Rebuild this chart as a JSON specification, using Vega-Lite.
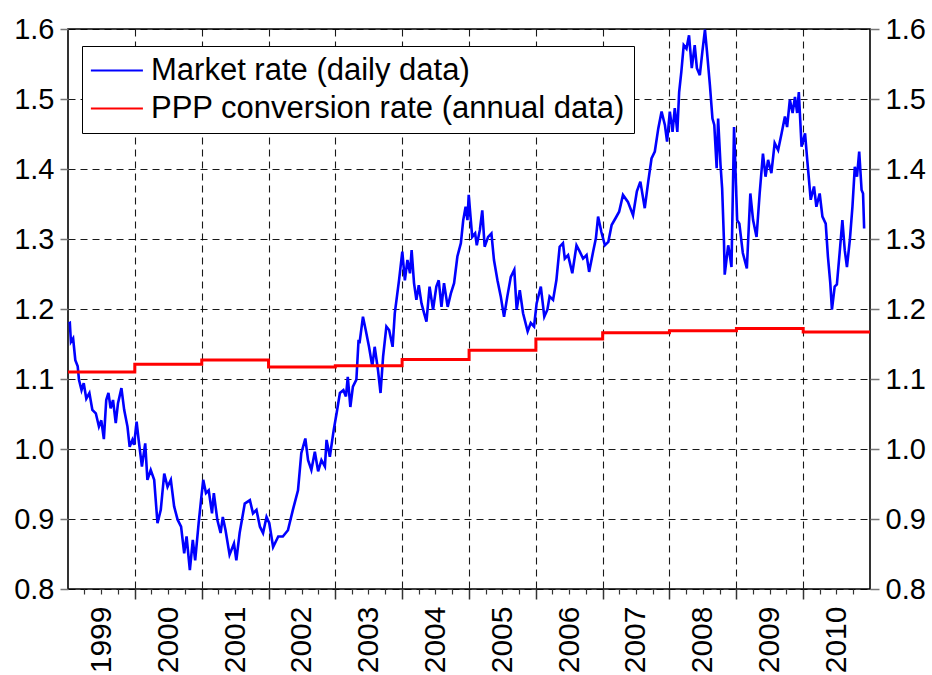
{
  "$schema": "https://vega.github.io/schema/vega-lite/v6.json",
  "autosize": {"type": "none"},
  "padding": {"left": 68, "top": 29, "right": 62, "bottom": 86},
  "width": 802,
  "height": 560,
  "background": "white",
  "datasets": {
    "market": [
      {"date": "1999-01-04", "rate": 1.179},
      {"date": "1999-01-11", "rate": 1.180},
      {"date": "1999-01-17", "rate": 1.153},
      {"date": "1999-01-29", "rate": 1.158},
      {"date": "1999-02-10", "rate": 1.127},
      {"date": "1999-02-23", "rate": 1.118},
      {"date": "1999-03-02", "rate": 1.099},
      {"date": "1999-03-16", "rate": 1.084},
      {"date": "1999-03-28", "rate": 1.094},
      {"date": "1999-04-11", "rate": 1.072},
      {"date": "1999-04-28", "rate": 1.080},
      {"date": "1999-05-14", "rate": 1.056},
      {"date": "1999-06-02", "rate": 1.051},
      {"date": "1999-06-19", "rate": 1.032},
      {"date": "1999-07-02", "rate": 1.041},
      {"date": "1999-07-16", "rate": 1.014},
      {"date": "1999-07-29", "rate": 1.070},
      {"date": "1999-08-10", "rate": 1.080},
      {"date": "1999-08-22", "rate": 1.058},
      {"date": "1999-09-04", "rate": 1.070},
      {"date": "1999-09-19", "rate": 1.037},
      {"date": "1999-10-01", "rate": 1.065},
      {"date": "1999-10-20", "rate": 1.087},
      {"date": "1999-11-04", "rate": 1.056},
      {"date": "1999-11-22", "rate": 1.032},
      {"date": "1999-12-04", "rate": 1.003},
      {"date": "1999-12-19", "rate": 1.013},
      {"date": "1999-12-28", "rate": 1.006},
      {"date": "2000-01-11", "rate": 1.039},
      {"date": "2000-01-22", "rate": 1.013},
      {"date": "2000-02-09", "rate": 0.975},
      {"date": "2000-02-27", "rate": 1.008},
      {"date": "2000-03-10", "rate": 0.956},
      {"date": "2000-03-28", "rate": 0.970},
      {"date": "2000-04-16", "rate": 0.956},
      {"date": "2000-05-04", "rate": 0.894},
      {"date": "2000-05-22", "rate": 0.913},
      {"date": "2000-06-10", "rate": 0.965},
      {"date": "2000-06-28", "rate": 0.946},
      {"date": "2000-07-16", "rate": 0.956},
      {"date": "2000-08-03", "rate": 0.918},
      {"date": "2000-08-22", "rate": 0.899},
      {"date": "2000-09-10", "rate": 0.889},
      {"date": "2000-09-27", "rate": 0.851},
      {"date": "2000-10-10", "rate": 0.875},
      {"date": "2000-10-28", "rate": 0.827},
      {"date": "2000-11-13", "rate": 0.870},
      {"date": "2000-11-26", "rate": 0.841},
      {"date": "2000-12-15", "rate": 0.894},
      {"date": "2000-12-28", "rate": 0.927},
      {"date": "2001-01-09", "rate": 0.956},
      {"date": "2001-01-24", "rate": 0.937},
      {"date": "2001-02-08", "rate": 0.941},
      {"date": "2001-02-26", "rate": 0.908},
      {"date": "2001-03-08", "rate": 0.937},
      {"date": "2001-03-27", "rate": 0.899},
      {"date": "2001-04-14", "rate": 0.880},
      {"date": "2001-04-26", "rate": 0.903},
      {"date": "2001-05-11", "rate": 0.884},
      {"date": "2001-06-02", "rate": 0.849},
      {"date": "2001-06-26", "rate": 0.865},
      {"date": "2001-07-09", "rate": 0.841},
      {"date": "2001-07-27", "rate": 0.880},
      {"date": "2001-08-24", "rate": 0.922},
      {"date": "2001-09-21", "rate": 0.927},
      {"date": "2001-10-08", "rate": 0.908},
      {"date": "2001-10-27", "rate": 0.913},
      {"date": "2001-11-15", "rate": 0.889},
      {"date": "2001-12-02", "rate": 0.880},
      {"date": "2001-12-21", "rate": 0.903},
      {"date": "2002-01-05", "rate": 0.894},
      {"date": "2002-01-26", "rate": 0.860},
      {"date": "2002-02-23", "rate": 0.875},
      {"date": "2002-03-20", "rate": 0.875},
      {"date": "2002-04-17", "rate": 0.884},
      {"date": "2002-05-14", "rate": 0.913},
      {"date": "2002-06-11", "rate": 0.941},
      {"date": "2002-06-29", "rate": 0.994},
      {"date": "2002-07-21", "rate": 1.015},
      {"date": "2002-08-05", "rate": 0.984},
      {"date": "2002-08-23", "rate": 0.970},
      {"date": "2002-09-11", "rate": 0.996},
      {"date": "2002-09-29", "rate": 0.968},
      {"date": "2002-10-17", "rate": 0.984},
      {"date": "2002-11-05", "rate": 0.975},
      {"date": "2002-11-14", "rate": 1.013},
      {"date": "2002-12-02", "rate": 0.989},
      {"date": "2002-12-23", "rate": 1.027},
      {"date": "2003-01-08", "rate": 1.051},
      {"date": "2003-01-26", "rate": 1.080},
      {"date": "2003-02-14", "rate": 1.084},
      {"date": "2003-02-28", "rate": 1.075},
      {"date": "2003-03-10", "rate": 1.103},
      {"date": "2003-03-24", "rate": 1.060},
      {"date": "2003-04-07", "rate": 1.089},
      {"date": "2003-04-26", "rate": 1.099},
      {"date": "2003-05-08", "rate": 1.156},
      {"date": "2003-05-13", "rate": 1.151},
      {"date": "2003-06-01", "rate": 1.189},
      {"date": "2003-06-16", "rate": 1.170},
      {"date": "2003-07-04", "rate": 1.146},
      {"date": "2003-07-22", "rate": 1.118},
      {"date": "2003-08-04", "rate": 1.146},
      {"date": "2003-08-22", "rate": 1.113},
      {"date": "2003-09-05", "rate": 1.080},
      {"date": "2003-09-19", "rate": 1.132},
      {"date": "2003-10-07", "rate": 1.175},
      {"date": "2003-10-22", "rate": 1.170},
      {"date": "2003-11-10", "rate": 1.146},
      {"date": "2003-11-22", "rate": 1.194},
      {"date": "2003-12-15", "rate": 1.241},
      {"date": "2004-01-02", "rate": 1.282},
      {"date": "2004-01-16", "rate": 1.241},
      {"date": "2004-01-30", "rate": 1.270},
      {"date": "2004-02-13", "rate": 1.251},
      {"date": "2004-02-22", "rate": 1.284},
      {"date": "2004-03-06", "rate": 1.237},
      {"date": "2004-03-19", "rate": 1.213},
      {"date": "2004-04-01", "rate": 1.234},
      {"date": "2004-04-16", "rate": 1.208},
      {"date": "2004-04-30", "rate": 1.194},
      {"date": "2004-05-13", "rate": 1.182},
      {"date": "2004-05-30", "rate": 1.232},
      {"date": "2004-06-18", "rate": 1.199},
      {"date": "2004-07-06", "rate": 1.232},
      {"date": "2004-07-19", "rate": 1.241},
      {"date": "2004-08-03", "rate": 1.203},
      {"date": "2004-08-17", "rate": 1.237},
      {"date": "2004-09-06", "rate": 1.203},
      {"date": "2004-09-23", "rate": 1.222},
      {"date": "2004-10-11", "rate": 1.237},
      {"date": "2004-10-29", "rate": 1.275},
      {"date": "2004-11-17", "rate": 1.294},
      {"date": "2004-11-30", "rate": 1.327},
      {"date": "2004-12-13", "rate": 1.346},
      {"date": "2004-12-23", "rate": 1.327},
      {"date": "2004-12-30", "rate": 1.363},
      {"date": "2005-01-18", "rate": 1.303},
      {"date": "2005-02-03", "rate": 1.308},
      {"date": "2005-02-12", "rate": 1.291},
      {"date": "2005-03-01", "rate": 1.313},
      {"date": "2005-03-14", "rate": 1.341},
      {"date": "2005-03-27", "rate": 1.289},
      {"date": "2005-04-15", "rate": 1.303},
      {"date": "2005-05-03", "rate": 1.308},
      {"date": "2005-05-17", "rate": 1.270},
      {"date": "2005-06-05", "rate": 1.241},
      {"date": "2005-06-23", "rate": 1.218},
      {"date": "2005-07-11", "rate": 1.189},
      {"date": "2005-07-29", "rate": 1.218},
      {"date": "2005-08-17", "rate": 1.246},
      {"date": "2005-09-05", "rate": 1.256},
      {"date": "2005-09-18", "rate": 1.199},
      {"date": "2005-10-05", "rate": 1.227},
      {"date": "2005-10-23", "rate": 1.194},
      {"date": "2005-11-17", "rate": 1.168},
      {"date": "2005-12-04", "rate": 1.180},
      {"date": "2005-12-22", "rate": 1.175},
      {"date": "2006-01-05", "rate": 1.208},
      {"date": "2006-01-28", "rate": 1.232},
      {"date": "2006-02-16", "rate": 1.189},
      {"date": "2006-03-05", "rate": 1.199},
      {"date": "2006-03-17", "rate": 1.218},
      {"date": "2006-04-05", "rate": 1.213},
      {"date": "2006-04-23", "rate": 1.241},
      {"date": "2006-05-11", "rate": 1.289},
      {"date": "2006-05-29", "rate": 1.294},
      {"date": "2006-06-08", "rate": 1.272},
      {"date": "2006-06-26", "rate": 1.277},
      {"date": "2006-07-19", "rate": 1.251},
      {"date": "2006-08-11", "rate": 1.291},
      {"date": "2006-08-29", "rate": 1.282},
      {"date": "2006-09-16", "rate": 1.272},
      {"date": "2006-10-05", "rate": 1.277},
      {"date": "2006-10-19", "rate": 1.253},
      {"date": "2006-11-10", "rate": 1.282},
      {"date": "2006-11-25", "rate": 1.301},
      {"date": "2006-12-07", "rate": 1.332},
      {"date": "2006-12-25", "rate": 1.310},
      {"date": "2007-01-13", "rate": 1.291},
      {"date": "2007-02-01", "rate": 1.296},
      {"date": "2007-02-19", "rate": 1.320},
      {"date": "2007-03-13", "rate": 1.330},
      {"date": "2007-04-01", "rate": 1.339},
      {"date": "2007-04-22", "rate": 1.363},
      {"date": "2007-05-19", "rate": 1.353},
      {"date": "2007-06-16", "rate": 1.334},
      {"date": "2007-07-07", "rate": 1.368},
      {"date": "2007-07-26", "rate": 1.382},
      {"date": "2007-08-19", "rate": 1.344},
      {"date": "2007-09-07", "rate": 1.382},
      {"date": "2007-09-25", "rate": 1.415},
      {"date": "2007-10-13", "rate": 1.425},
      {"date": "2007-11-01", "rate": 1.458},
      {"date": "2007-11-19", "rate": 1.482},
      {"date": "2007-12-07", "rate": 1.463},
      {"date": "2007-12-19", "rate": 1.439},
      {"date": "2008-01-03", "rate": 1.482},
      {"date": "2008-01-18", "rate": 1.453},
      {"date": "2008-01-30", "rate": 1.487},
      {"date": "2008-02-13", "rate": 1.453},
      {"date": "2008-02-23", "rate": 1.510},
      {"date": "2008-03-06", "rate": 1.539},
      {"date": "2008-03-19", "rate": 1.577},
      {"date": "2008-04-03", "rate": 1.572},
      {"date": "2008-04-17", "rate": 1.591},
      {"date": "2008-05-02", "rate": 1.544},
      {"date": "2008-05-18", "rate": 1.577},
      {"date": "2008-05-30", "rate": 1.544},
      {"date": "2008-06-15", "rate": 1.534},
      {"date": "2008-06-29", "rate": 1.568},
      {"date": "2008-07-13", "rate": 1.599},
      {"date": "2008-07-24", "rate": 1.568},
      {"date": "2008-08-09", "rate": 1.520},
      {"date": "2008-08-23", "rate": 1.472},
      {"date": "2008-09-02", "rate": 1.463},
      {"date": "2008-09-15", "rate": 1.401},
      {"date": "2008-09-23", "rate": 1.472},
      {"date": "2008-10-06", "rate": 1.406},
      {"date": "2008-10-15", "rate": 1.372},
      {"date": "2008-10-25", "rate": 1.296},
      {"date": "2008-10-29", "rate": 1.249},
      {"date": "2008-11-17", "rate": 1.291},
      {"date": "2008-11-22", "rate": 1.284},
      {"date": "2008-12-05", "rate": 1.260},
      {"date": "2008-12-19", "rate": 1.460},
      {"date": "2009-01-05", "rate": 1.327},
      {"date": "2009-01-17", "rate": 1.322},
      {"date": "2009-02-05", "rate": 1.280},
      {"date": "2009-02-27", "rate": 1.258},
      {"date": "2009-03-18", "rate": 1.365},
      {"date": "2009-04-02", "rate": 1.327},
      {"date": "2009-04-21", "rate": 1.303},
      {"date": "2009-05-08", "rate": 1.365},
      {"date": "2009-05-26", "rate": 1.422},
      {"date": "2009-06-09", "rate": 1.389},
      {"date": "2009-06-23", "rate": 1.413},
      {"date": "2009-07-11", "rate": 1.394},
      {"date": "2009-07-29", "rate": 1.437},
      {"date": "2009-08-17", "rate": 1.427},
      {"date": "2009-09-05", "rate": 1.451},
      {"date": "2009-09-23", "rate": 1.475},
      {"date": "2009-10-05", "rate": 1.460},
      {"date": "2009-10-20", "rate": 1.499},
      {"date": "2009-11-04", "rate": 1.480},
      {"date": "2009-11-17", "rate": 1.503},
      {"date": "2009-11-29", "rate": 1.480},
      {"date": "2009-12-08", "rate": 1.510},
      {"date": "2009-12-23", "rate": 1.432},
      {"date": "2010-01-11", "rate": 1.451},
      {"date": "2010-01-23", "rate": 1.413},
      {"date": "2010-02-11", "rate": 1.356},
      {"date": "2010-03-01", "rate": 1.375},
      {"date": "2010-03-14", "rate": 1.346},
      {"date": "2010-04-01", "rate": 1.365},
      {"date": "2010-04-16", "rate": 1.332},
      {"date": "2010-05-04", "rate": 1.322},
      {"date": "2010-05-16", "rate": 1.275},
      {"date": "2010-05-29", "rate": 1.237},
      {"date": "2010-06-07", "rate": 1.199},
      {"date": "2010-06-22", "rate": 1.232},
      {"date": "2010-07-04", "rate": 1.235},
      {"date": "2010-07-19", "rate": 1.280},
      {"date": "2010-08-03", "rate": 1.327},
      {"date": "2010-08-16", "rate": 1.284},
      {"date": "2010-08-28", "rate": 1.260},
      {"date": "2010-09-13", "rate": 1.299},
      {"date": "2010-09-27", "rate": 1.346},
      {"date": "2010-10-10", "rate": 1.403},
      {"date": "2010-10-22", "rate": 1.389},
      {"date": "2010-11-03", "rate": 1.425},
      {"date": "2010-11-16", "rate": 1.370},
      {"date": "2010-11-24", "rate": 1.365},
      {"date": "2010-11-30", "rate": 1.315}
    ],
    "ppp": [
      {"date": "1999-01-01", "rate": 1.110},
      {"date": "2000-01-01", "rate": 1.121},
      {"date": "2001-01-01", "rate": 1.127},
      {"date": "2002-01-01", "rate": 1.117},
      {"date": "2003-01-01", "rate": 1.119},
      {"date": "2004-01-01", "rate": 1.128},
      {"date": "2005-01-01", "rate": 1.141},
      {"date": "2006-01-01", "rate": 1.157},
      {"date": "2007-01-01", "rate": 1.166},
      {"date": "2008-01-01", "rate": 1.169},
      {"date": "2009-01-01", "rate": 1.172},
      {"date": "2010-01-01", "rate": 1.167},
      {"date": "2011-01-01", "rate": 1.167}
    ]
  },
  "layer": [
    {
      "data": {"name": "market"},
      "mark": {"type": "line", "strokeWidth": 2.6, "clip": true},
      "encoding": {
        "x": {
          "field": "date", "type": "temporal",
          "scale": {"type": "utc", "domain": [{"year": 1999, "month": 1, "date": 1, "utc": true}, {"year": 2011, "month": 1, "date": 1, "utc": true}], "nice": false},
          "axis": {
            "title": null, "labels": false, "domain": false, "orient": "bottom",
            "values": [
              {"year": 2000, "month": 1, "date": 1, "utc": true},
              {"year": 2001, "month": 1, "date": 1, "utc": true},
              {"year": 2002, "month": 1, "date": 1, "utc": true},
              {"year": 2003, "month": 1, "date": 1, "utc": true},
              {"year": 2004, "month": 1, "date": 1, "utc": true},
              {"year": 2005, "month": 1, "date": 1, "utc": true},
              {"year": 2006, "month": 1, "date": 1, "utc": true},
              {"year": 2007, "month": 1, "date": 1, "utc": true},
              {"year": 2008, "month": 1, "date": 1, "utc": true},
              {"year": 2009, "month": 1, "date": 1, "utc": true},
              {"year": 2010, "month": 1, "date": 1, "utc": true}
            ],
            "grid": true, "gridColor": "#000000", "gridDash": [7, 5], "gridWidth": 1.1, "gridOpacity": 0.9,
            "ticks": true, "tickSize": 10, "tickColor": "#333333", "tickWidth": 1.5
          }
        },
        "y": {
          "field": "rate", "type": "quantitative",
          "scale": {"domain": [0.8, 1.6], "nice": false, "zero": false},
          "axis": {
            "title": null, "orient": "left", "domain": false,
            "values": [0.8, 0.9, 1.0, 1.1, 1.2, 1.3, 1.4, 1.5, 1.6],
            "format": ".1f",
            "grid": true, "gridColor": "#000000", "gridDash": [7, 5], "gridWidth": 1.1, "gridOpacity": 0.9,
            "tickSize": 8, "tickColor": "#777777", "tickWidth": 1.5,
            "labelPadding": 6, "labelFontSize": 29, "labelFont": "Liberation Sans", "labelColor": "#000000"
          }
        },
        "color": {
          "datum": "Market rate (daily data)",
          "type": "nominal",
          "scale": {"domain": ["Market rate (daily data)", "PPP conversion rate (annual data)"], "range": ["#0000ff", "#ff0000"]},
          "legend": {
            "title": null, "orient": "none", "legendX": 14, "legendY": 17,
            "symbolType": "M-1.5,0H3.5", "symbolSize": 433, "symbolStrokeWidth": 2.2,
            "labelFontSize": 31, "labelFont": "Liberation Sans", "labelColor": "#000000", "labelLimit": 800,
            "labelOffset": 29, "padding": 9, "rowPadding": 6,
            "strokeColor": "#000000", "fillColor": "#ffffff"
          }
        }
      }
    },
    {
      "data": {"name": "ppp"},
      "mark": {"type": "line", "strokeWidth": 3, "interpolate": "step-after"},
      "encoding": {
        "x": {
          "field": "date", "type": "temporal",
          "axis": {
            "title": null, "labels": false, "domain": false, "grid": false, "orient": "bottom",
            "values": [
              {"year": 1999, "month": 4, "date": 1, "utc": true}, {"year": 1999, "month": 7, "date": 1, "utc": true}, {"year": 1999, "month": 10, "date": 1, "utc": true},
              {"year": 2000, "month": 4, "date": 1, "utc": true}, {"year": 2000, "month": 7, "date": 1, "utc": true}, {"year": 2000, "month": 10, "date": 1, "utc": true},
              {"year": 2001, "month": 4, "date": 1, "utc": true}, {"year": 2001, "month": 7, "date": 1, "utc": true}, {"year": 2001, "month": 10, "date": 1, "utc": true},
              {"year": 2002, "month": 4, "date": 1, "utc": true}, {"year": 2002, "month": 7, "date": 1, "utc": true}, {"year": 2002, "month": 10, "date": 1, "utc": true},
              {"year": 2003, "month": 4, "date": 1, "utc": true}, {"year": 2003, "month": 7, "date": 1, "utc": true}, {"year": 2003, "month": 10, "date": 1, "utc": true},
              {"year": 2004, "month": 4, "date": 1, "utc": true}, {"year": 2004, "month": 7, "date": 1, "utc": true}, {"year": 2004, "month": 10, "date": 1, "utc": true},
              {"year": 2005, "month": 4, "date": 1, "utc": true}, {"year": 2005, "month": 7, "date": 1, "utc": true}, {"year": 2005, "month": 10, "date": 1, "utc": true},
              {"year": 2006, "month": 4, "date": 1, "utc": true}, {"year": 2006, "month": 7, "date": 1, "utc": true}, {"year": 2006, "month": 10, "date": 1, "utc": true},
              {"year": 2007, "month": 4, "date": 1, "utc": true}, {"year": 2007, "month": 7, "date": 1, "utc": true}, {"year": 2007, "month": 10, "date": 1, "utc": true},
              {"year": 2008, "month": 4, "date": 1, "utc": true}, {"year": 2008, "month": 7, "date": 1, "utc": true}, {"year": 2008, "month": 10, "date": 1, "utc": true},
              {"year": 2009, "month": 4, "date": 1, "utc": true}, {"year": 2009, "month": 7, "date": 1, "utc": true}, {"year": 2009, "month": 10, "date": 1, "utc": true},
              {"year": 2010, "month": 4, "date": 1, "utc": true}, {"year": 2010, "month": 7, "date": 1, "utc": true}, {"year": 2010, "month": 10, "date": 1, "utc": true}
            ],
            "ticks": true, "tickSize": 5, "tickColor": "#333333", "tickWidth": 1.2
          }
        },
        "y": {
          "field": "rate", "type": "quantitative",
          "axis": {
            "title": null, "orient": "right", "domain": false, "grid": false,
            "values": [0.8, 0.9, 1.0, 1.1, 1.2, 1.3, 1.4, 1.5, 1.6],
            "format": ".1f",
            "tickSize": 9, "tickColor": "#777777", "tickWidth": 1.5,
            "labelPadding": 6, "labelFontSize": 29, "labelFont": "Liberation Sans", "labelColor": "#000000"
          }
        },
        "color": {"datum": "PPP conversion rate (annual data)", "type": "nominal"}
      }
    },
    {
      "data": {"name": "ppp"},
      "mark": {"type": "line", "opacity": 0},
      "encoding": {
        "x": {
          "field": "date", "type": "temporal",
          "axis": {
            "title": null, "domain": false, "grid": false, "ticks": false, "orient": "bottom",
            "values": [
              {"year": 1999, "month": 7, "date": 2, "utc": true},
              {"year": 2000, "month": 7, "date": 2, "utc": true},
              {"year": 2001, "month": 7, "date": 2, "utc": true},
              {"year": 2002, "month": 7, "date": 2, "utc": true},
              {"year": 2003, "month": 7, "date": 2, "utc": true},
              {"year": 2004, "month": 7, "date": 2, "utc": true},
              {"year": 2005, "month": 7, "date": 2, "utc": true},
              {"year": 2006, "month": 7, "date": 2, "utc": true},
              {"year": 2007, "month": 7, "date": 2, "utc": true},
              {"year": 2008, "month": 7, "date": 2, "utc": true},
              {"year": 2009, "month": 7, "date": 2, "utc": true},
              {"year": 2010, "month": 7, "date": 2, "utc": true}
            ],
            "format": "%Y", "labelAngle": -90, "labelAlign": "right", "labelBaseline": "middle",
            "labelPadding": 17, "labelFontSize": 30, "labelFont": "Liberation Sans", "labelColor": "#000000",
            "labelOverlap": false, "labelFlush": false
          }
        },
        "y": {"field": "rate", "type": "quantitative", "axis": null}
      }
    }
  ],
  "resolve": {"axis": {"x": "independent", "y": "independent"}},
  "config": {
    "font": "Liberation Sans",
    "view": {"stroke": "#000000", "strokeWidth": 1.6}
  }
}
